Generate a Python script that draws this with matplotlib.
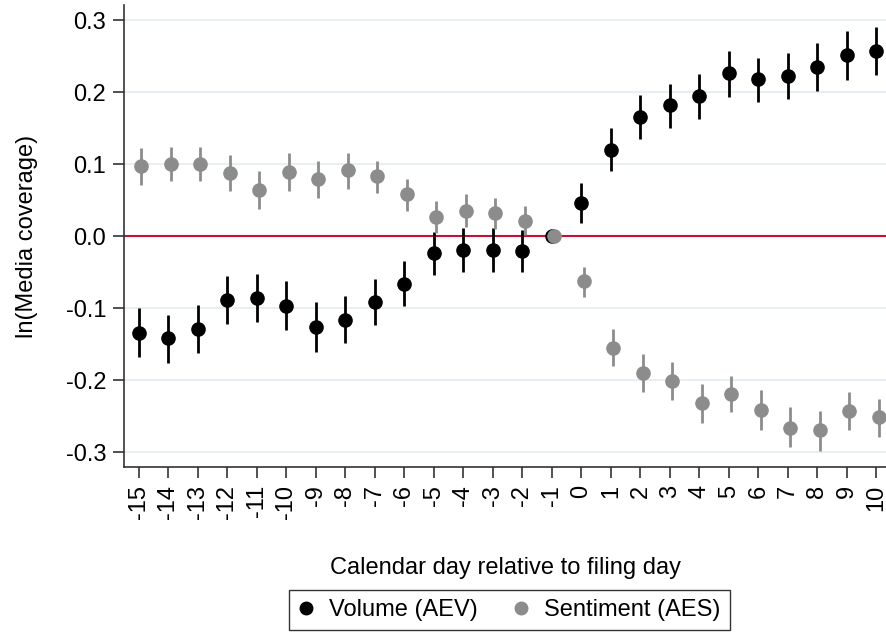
import matplotlib as mpl
import matplotlib.pyplot as plt
from matplotlib.lines import Line2D

# data (day relative to filing day)
days = list(range(-15, 11))

vol = [-0.134, -0.142, -0.129, -0.089, -0.086, -0.097, -0.126, -0.116, -0.091,
       -0.066, -0.024, -0.019, -0.019, -0.020, 0.000, 0.046, 0.120, 0.166,
       0.182, 0.194, 0.226, 0.218, 0.223, 0.235, 0.251, 0.257]
vol_lo = [-0.168, -0.176, -0.162, -0.122, -0.120, -0.131, -0.161, -0.149, -0.124,
          -0.097, -0.054, -0.050, -0.050, -0.050, 0.000, 0.018, 0.091, 0.135,
          0.150, 0.163, 0.193, 0.187, 0.191, 0.201, 0.217, 0.224]
vol_hi = [-0.100, -0.109, -0.096, -0.056, -0.052, -0.063, -0.092, -0.083, -0.060,
          -0.035, 0.006, 0.011, 0.011, 0.009, 0.000, 0.074, 0.150, 0.196,
          0.212, 0.225, 0.257, 0.248, 0.254, 0.268, 0.285, 0.290]

sent = [0.097, 0.100, 0.100, 0.087, 0.064, 0.089, 0.079, 0.092, 0.083, 0.058,
        0.027, 0.035, 0.032, 0.021, 0.000, -0.063, -0.155, -0.190, -0.201,
        -0.232, -0.219, -0.242, -0.266, -0.270, -0.243, -0.252]
sent_lo = [0.071, 0.076, 0.076, 0.062, 0.038, 0.063, 0.053, 0.066, 0.060, 0.035,
           0.005, 0.012, 0.010, 0.001, 0.000, -0.084, -0.180, -0.216, -0.228,
           -0.260, -0.245, -0.269, -0.293, -0.298, -0.269, -0.279]
sent_hi = [0.123, 0.124, 0.124, 0.112, 0.090, 0.115, 0.105, 0.116, 0.105, 0.080,
           0.049, 0.058, 0.053, 0.042, 0.000, -0.043, -0.129, -0.164, -0.175,
           -0.206, -0.194, -0.214, -0.238, -0.243, -0.217, -0.226]

yticks = [-0.3, -0.2, -0.1, 0.0, 0.1, 0.2, 0.3]

mpl.rcParams['font.family'] = ['Liberation Sans', 'DejaVu Sans']
fs = 17
fig = plt.figure(figsize=(8.87, 6.33), dpi=100)
ax = fig.add_axes([0.140, 0.262, 0.860, 0.730])

black = '#000000'
grey = '#8c8c8c'
red = '#c8102e'
shift = 0.08

for y in yticks:
    if y != 0:
        ax.axhline(y, color='#e8eff2', lw=1.5, zorder=0)
ax.axhline(0, color=red, lw=1.5, zorder=1)

# volume
ax.vlines(days, vol_lo, vol_hi, color=black, lw=2, zorder=2)
ax.plot(days, vol, 'o', color=black, ms=9.5, zorder=3)

# sentiment (slightly offset)
sx = [d + shift for d in days]
ax.vlines(sx, sent_lo, sent_hi, color=grey, lw=2, zorder=2)
ax.plot(sx, sent, 'o', color=grey, ms=9.5, zorder=3)

ax.set_xlim(-15.5, 10.36)
ax.set_ylim(-0.321, 0.321)
ax.set_xticks(days)
ax.set_xticklabels([str(d) for d in days], rotation=90, fontsize=fs)
ax.set_yticks(yticks)
ax.set_yticklabels(['%.1f' % y for y in yticks], fontsize=fs)
ax.tick_params(direction='out', length=8, width=1.2, color='#333333', pad=5)

for s in ['top', 'right']:
    ax.spines[s].set_visible(False)
for s in ['left', 'bottom']:
    ax.spines[s].set_color('#333333')
    ax.spines[s].set_linewidth(1.2)

ax.set_ylabel('ln(Media coverage)', fontsize=fs, labelpad=20)
ax.set_xlabel('Calendar day relative to filing day', fontsize=fs, labelpad=27)

handles = [Line2D([], [], marker='o', ls='', color=black, ms=9),
           Line2D([], [], marker='o', ls='', color=grey, ms=9)]
leg = fig.legend(handles, ['Volume (AEV)', 'Sentiment (AES)'], ncol=2,
                 loc='lower center', bbox_to_anchor=(0.574, 0.004), fontsize=fs,
                 frameon=True, fancybox=False, edgecolor='black',
                 handletextpad=0.6, columnspacing=1.5, borderpad=0.4,
                 handlelength=0.7, borderaxespad=0)
leg.get_frame().set_linewidth(1.0)

fig.savefig('out.png', dpi=100)
